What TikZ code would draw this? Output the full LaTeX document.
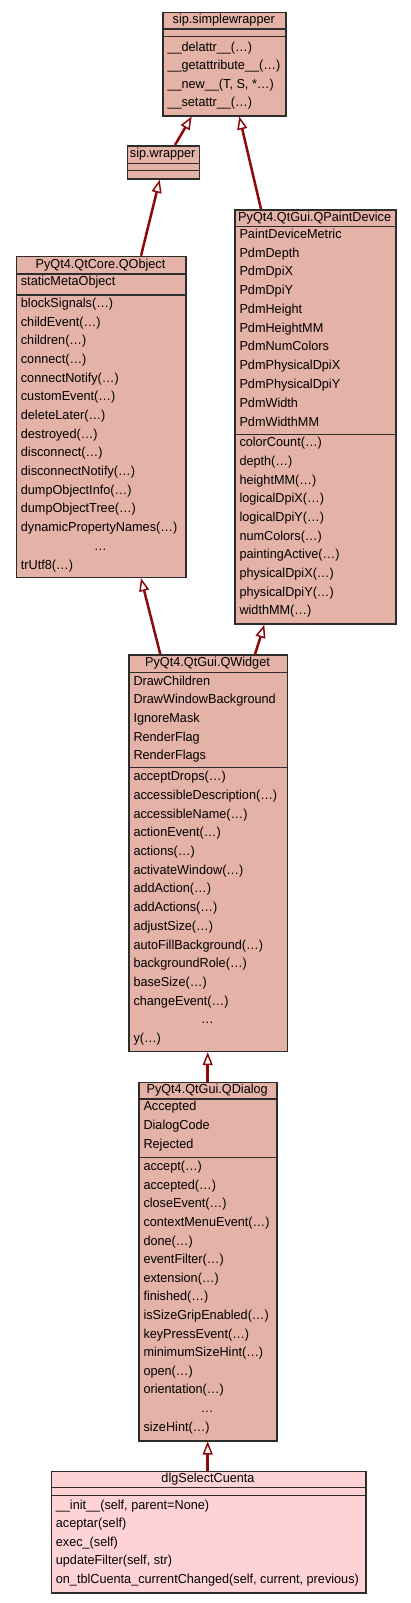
\documentclass[tikz,border=0pt]{standalone}
\usepackage{fontspec}
\setmainfont{Liberation Sans}[FakeStretch=0.975]
\usetikzlibrary{arrows.meta}
\definecolor{salmon}{RGB}{228,178,166}
\definecolor{pinkbox}{RGB}{255,211,214}
\definecolor{edgered}{RGB}{140,10,10}
\definecolor{boxline}{RGB}{45,45,45}
\newcommand{\fs}{\fontsize{13}{15}\selectfont}
\tikzset{
  cls/.style={draw=boxline, line width=1.5pt, fill=salmon, inner sep=0pt, anchor=north west},
  row/.style={inner sep=0pt, anchor=west, text height=9.5pt, text depth=2.8pt, font=\fs, text=black},
  ttl/.style={row, anchor=center},
  sep/.style={draw=boxline, line width=1.5pt},
  inh/.style={draw=edgered, line width=2.5pt, -{Triangle[length=13pt, width=10pt, fill=white, line width=1.5pt]}}
}
\begin{document}
\begin{tikzpicture}[x=1pt,y=-1pt]
\useasboundingbox (0,0) rectangle (411,1603);
\fill[white] (0,0) rectangle (411,1603);

% sip.simplewrapper
\node[cls, minimum width=123pt, minimum height=103.3pt] (sw) at (162.3,11.7) {};
\node[ttl] (sw-t) at (223.8,20.3) {sip.simplewrapper};
\draw[sep] (sw.west |- 0,29) -- (sw.east |- 0,29);
\draw[sep] (sw.west |- 0,36.7) -- (sw.east |- 0,36.7);
\foreach \t [count=\i from 0] in {\_\_delattr\_\_(…), \_\_getattribute\_\_(…), {\_\_new\_\_(T, S, *…)}, \_\_setattr\_\_(…)}
  \node[row] (sw-m\i) at (167.3,47.7+\i*18.55) {\t};

% sip.wrapper
\node[cls, minimum width=72pt, minimum height=33.3pt] (wr) at (126.7,145) {};
\node[ttl] (wr-t) at (162.7,154) {sip.wrapper};
\draw[sep] (wr.west |- 0,163.3) -- (wr.east |- 0,163.3);
\draw[sep] (wr.west |- 0,170.7) -- (wr.east |- 0,170.7);

% PyQt4.QtCore.QObject
\node[cls, minimum width=169.6pt, minimum height=321pt] (qo) at (15.7,255.7) {};
\node[ttl] (qo-t) at (100.5,265) {PyQt4.QtCore.QObject};
\draw[sep] (qo.west |- 0,274) -- (qo.east |- 0,274);
\node[row] (qo-a0) at (20.7,282.3) {staticMetaObject};
\draw[sep] (qo.west |- 0,295) -- (qo.east |- 0,295);
\foreach \t [count=\i from 0] in {blockSignals(…), childEvent(…), children(…), connect(…), connectNotify(…), customEvent(…), deleteLater(…), destroyed(…), disconnect(…), disconnectNotify(…), dumpObjectInfo(…), dumpObjectTree(…), dynamicPropertyNames(…)}
  \node[row] (qo-m\i) at (20.7,304+\i*18.69) {\t};
\node[ttl] (qo-dots) at (100.5,304+13*18.69) {…};
\node[row] (qo-last) at (20.7,565.7) {trUtf8(…)};

% PyQt4.QtGui.QPaintDevice
\node[cls, minimum width=160.7pt, minimum height=414.3pt] (qpd) at (234.3,209) {};
\node[ttl] (qpd-t) at (314.65,218) {PyQt4.QtGui.QPaintDevice};
\draw[sep] (qpd.west |- 0,226.7) -- (qpd.east |- 0,226.7);
\foreach \t [count=\i from 0] in {PaintDeviceMetric, PdmDepth, PdmDpiX, PdmDpiY, PdmHeight, PdmHeightMM, PdmNumColors, PdmPhysicalDpiX, PdmPhysicalDpiY, PdmWidth, PdmWidthMM}
  \node[row] (qpd-a\i) at (239.3,235+\i*18.77) {\t};
\draw[sep] (qpd.west |- 0,434.3) -- (qpd.east |- 0,434.3);
\foreach \t [count=\i from 0] in {colorCount(…), depth(…), heightMM(…), logicalDpiX(…), logicalDpiY(…), numColors(…), paintingActive(…), physicalDpiX(…), physicalDpiY(…), widthMM(…)}
  \node[row] (qpd-m\i) at (239.3,443.3+\i*18.7) {\t};

% PyQt4.QtGui.QWidget
\node[cls, minimum width=158.4pt, minimum height=396.4pt] (qw) at (128.3,654.3) {};
\node[ttl] (qw-t) at (207.5,663.3) {PyQt4.QtGui.QWidget};
\draw[sep] (qw.west |- 0,672.3) -- (qw.east |- 0,672.3);
\foreach \t [count=\i from 0] in {DrawChildren, DrawWindowBackground, IgnoreMask, RenderFlag, RenderFlags}
  \node[row] (qw-a\i) at (133.3,681.7+\i*18.7) {\t};
\draw[sep] (qw.west |- 0,767.7) -- (qw.east |- 0,767.7);
\foreach \t [count=\i from 0] in {acceptDrops(…), accessibleDescription(…), accessibleName(…), actionEvent(…), actions(…), activateWindow(…), addAction(…), addActions(…), adjustSize(…), autoFillBackground(…), backgroundRole(…), baseSize(…), changeEvent(…)}
  \node[row] (qw-m\i) at (133.3,777.3+\i*18.71) {\t};
\node[ttl] (qw-dots) at (207.5,777.3+13*18.71) {…};
\node[row] (qw-last) at (133.3,1039.3) {y(…)};

% PyQt4.QtGui.QDialog
\node[cls, minimum width=137.7pt, minimum height=358.3pt] (qd) at (138.3,1081.7) {};
\node[ttl] (qd-t) at (207.15,1090.3) {PyQt4.QtGui.QDialog};
\draw[sep] (qd.west |- 0,1099) -- (qd.east |- 0,1099);
\foreach \t [count=\i from 0] in {Accepted, DialogCode, Rejected}
  \node[row] (qd-a\i) at (143.3,1107.3+\i*18.7) {\t};
\draw[sep] (qd.west |- 0,1157.3) -- (qd.east |- 0,1157.3);
\foreach \t [count=\i from 0] in {accept(…), accepted(…), closeEvent(…), contextMenuEvent(…), done(…), eventFilter(…), extension(…), finished(…), isSizeGripEnabled(…), keyPressEvent(…), minimumSizeHint(…), open(…), orientation(…)}
  \node[row] (qd-m\i) at (143.3,1167.3+\i*18.6) {\t};
\node[ttl] (qd-dots) at (207.15,1167.3+13*18.6) {…};
\node[row] (qd-last) at (143.3,1427.7) {sizeHint(…)};

% dlgSelectCuenta
\node[cls, fill=pinkbox, minimum width=314.6pt, minimum height=121.3pt] (dlg) at (50.7,1470.7) {};
\node[ttl] (dlg-t) at (208,1479.2) {dlgSelectCuenta};
\draw[sep] (dlg.west |- 0,1487.7) -- (dlg.east |- 0,1487.7);
\draw[sep] (dlg.west |- 0,1495.7) -- (dlg.east |- 0,1495.7);
\foreach \t [count=\i from 0] in {{\_\_init\_\_(self, parent=None)}, aceptar(self), exec\_(self), {updateFilter(self, str)}, {on\_tblCuenta\_currentChanged(self, current, previous)}}
  \node[row] (dlg-m\i) at (55.7,1506+\i*18.5) {\t};

% inheritance edges
\draw[inh] ([xshift=48.3pt]wr.north west) -- ([xshift=29.4pt]sw.south west);
\draw[inh] ([xshift=26.7pt]qpd.north west) -- ([xshift=77pt]sw.south west);
\draw[inh] ([xshift=125.3pt]qo.north west) -- ([xshift=33pt]wr.south west);
\draw[inh] ([xshift=32pt]qw.north west) -- ([xshift=125.3pt]qo.south west);
\draw[inh] ([xshift=126.7pt]qw.north west) -- ([xshift=30pt]qpd.south west);
\draw[inh] ([xshift=69.4pt]qd.north west) -- ([xshift=79.4pt]qw.south west);
\draw[inh] ([xshift=157pt]dlg.north west) -- ([xshift=69.4pt]qd.south west);
\end{tikzpicture}
\end{document}
